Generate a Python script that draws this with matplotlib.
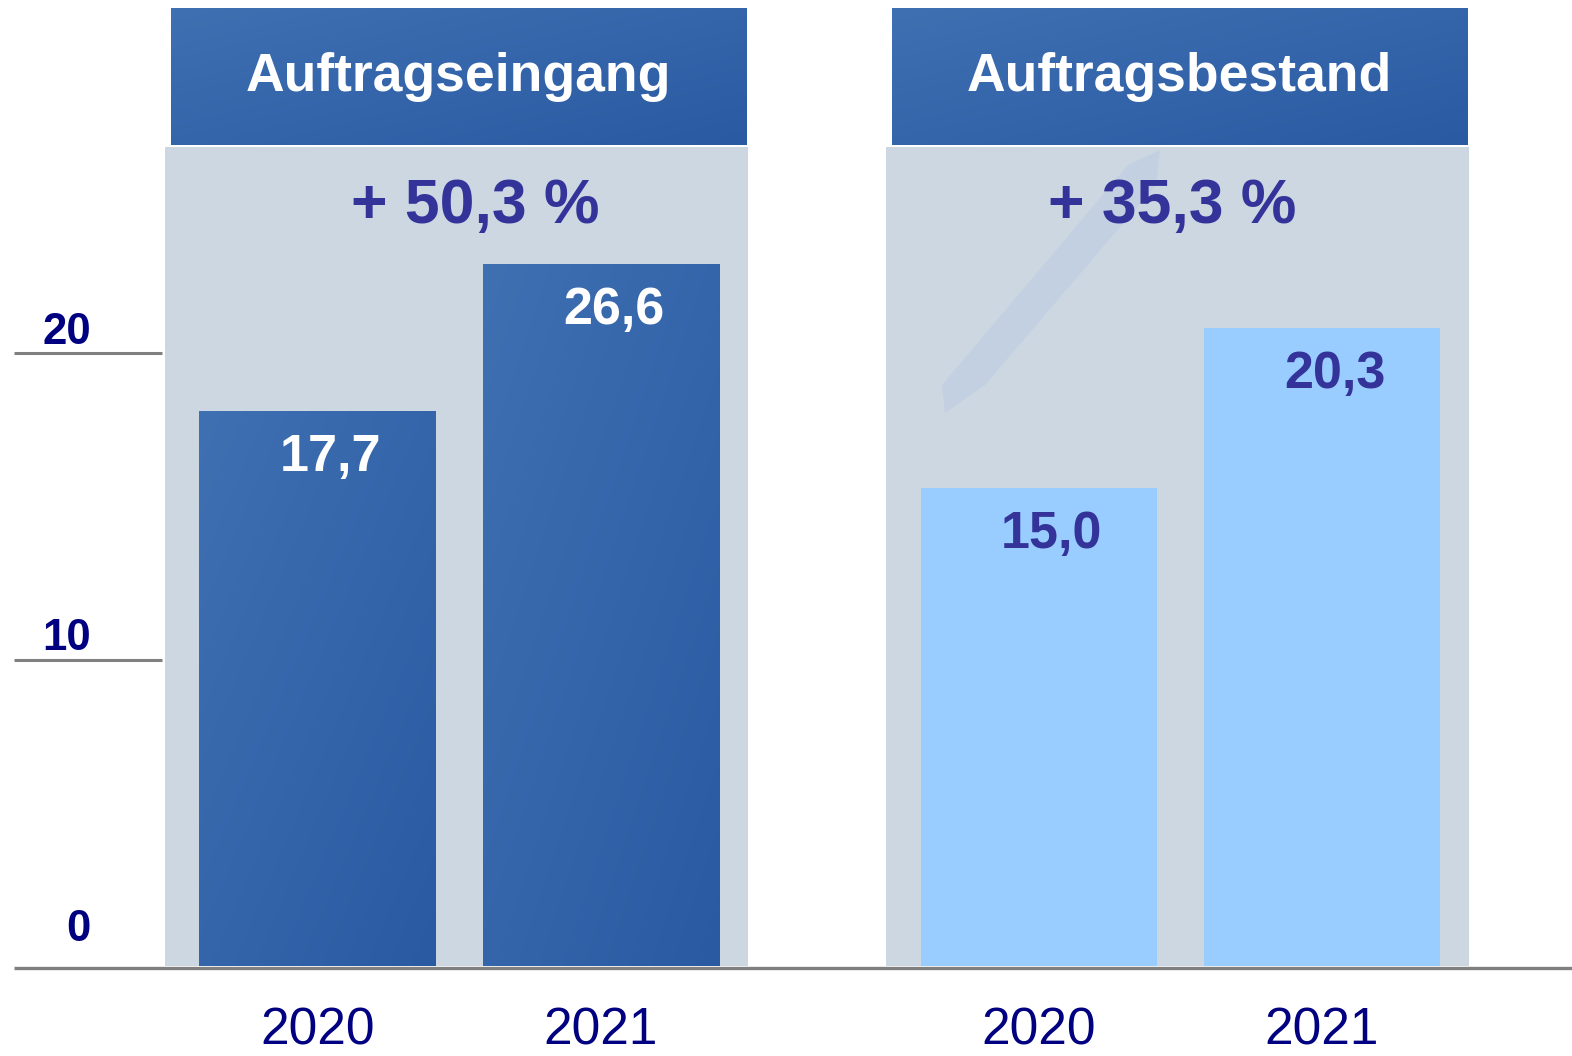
import numpy as np
import matplotlib
matplotlib.use("Agg")
import matplotlib.pyplot as plt
from matplotlib.patches import Rectangle, Polygon
from matplotlib.colors import to_rgb

plt.rcParams['font.family'] = ['Liberation Sans', 'DejaVu Sans']

# ---------------- data ----------------
panels = ["Auftragseingang", "Auftragsbestand"]
changes = ["+ 50,3 %", "+ 35,3 %"]
years = ["2020", "2021"]
# bar heights as read against the left scale
auftragseingang = [18.1, 22.9]
auftragsbestand = [15.6, 20.8]
# printed value labels
labels_eingang = ["17,7", "26,6"]
labels_bestand = ["15,0", "20,3"]
yticks = [0, 10, 20]

# ---------------- layout ----------------
W, H, DPI = 1572, 1056, 100
fig = plt.figure(figsize=(W / DPI, H / DPI), dpi=DPI)
ax = fig.add_axes([0, 0, 1, 1])

PX_X0, PX_UNIT_X = 317.5, 282.0   # pixel of x=0, pixels per x unit
PX_Y0, PX_UNIT_Y = 966.0, 30.65   # pixel of y=0, pixels per y unit
ax.set_xlim((0 - PX_X0) / PX_UNIT_X, (W - PX_X0) / PX_UNIT_X)
ax.set_ylim((PX_Y0 - H) / PX_UNIT_Y, PX_Y0 / PX_UNIT_Y)
ax.axis('off')

group_start = [0.0, 2.557]
within = [0.0, 1.005]
bar_w = 0.837
series = [auftragseingang, auftragsbestand]
series_labels = [labels_eingang, labels_bestand]

panel_color = '#cdd7e1'
dark_tl, dark_br = to_rgb('#3f70b2'), to_rgb('#2a5aa2')
light_bar = '#99ccff'
pct_color = '#333399'
navy = '#000080'
grid_gray = '#808080'


def gradient_img(c1, c2, n=64):
    xx, yy = np.meshgrid(np.linspace(0, 1, n), np.linspace(0, 1, n))
    t = (xx + yy) / 2.0  # row 0 = top when origin='upper'
    c1, c2 = np.array(c1), np.array(c2)
    return c1[None, None, :] * (1 - t[..., None]) + c2[None, None, :] * t[..., None]


def fill_gradient(patch, x0, x1, y0, y1, z):
    im = ax.imshow(gradient_img(dark_tl, dark_br), extent=(x0, x1, y0, y1),
                   origin='upper', aspect='auto', zorder=z, interpolation='bilinear')
    im.set_clip_path(patch)


for g in range(2):
    gx = group_start[g]
    # panel background
    pbg = Rectangle((gx - 0.54, 0), 2.065, 26.72, facecolor=panel_color,
                    edgecolor='none', zorder=1)
    ax.add_patch(pbg)
    # header
    hdr = Rectangle((gx - 0.52, 26.80), 2.04, 31.26 - 26.80,
                    facecolor='#3463aa', edgecolor='none', zorder=2)
    ax.add_patch(hdr)
    fill_gradient(hdr, gx - 0.52, gx + 1.52, 26.80, 31.26, 2.5)
    ax.text(gx + 0.50, 28.55, panels[g], ha='center', va='baseline',
            fontsize=38.5, fontweight='bold', color='white', zorder=5)
    # percentage change
    ax.text(gx + [0.56, 0.475][g], 24.25, changes[g], ha='center', va='baseline',
            fontsize=45, fontweight='bold', color=pct_color, zorder=5)

# faint turbine blade in the right panel
blade = Polygon([((945 - PX_X0) / PX_UNIT_X, (PX_Y0 - 413) / PX_UNIT_Y),
                 ((942 - PX_X0) / PX_UNIT_X, (PX_Y0 - 385) / PX_UNIT_Y),
                 ((1128 - PX_X0) / PX_UNIT_X, (PX_Y0 - 165) / PX_UNIT_Y),
                 ((1160 - PX_X0) / PX_UNIT_X, (PX_Y0 - 150) / PX_UNIT_Y),
                 ((1156 - PX_X0) / PX_UNIT_X, (PX_Y0 - 185) / PX_UNIT_Y),
                 ((985 - PX_X0) / PX_UNIT_X, (PX_Y0 - 385) / PX_UNIT_Y)],
                closed=True, facecolor='#b5c9e2', edgecolor='none', alpha=0.45, zorder=1.5)
ax.add_patch(blade)

for g in range(2):
    xs = [group_start[g] + w for w in within]
    if g == 0:
        bars = ax.bar(xs, series[g], width=bar_w, color='#3463aa', zorder=3)
        for b in bars:
            x0 = b.get_x()
            fill_gradient(b, x0, x0 + b.get_width(), 0, b.get_height(), 3.5)
        txtc = 'white'
    else:
        bars = ax.bar(xs, series[g], width=bar_w, color=light_bar, zorder=3)
        txtc = pct_color
    for b, lab, yr in zip(bars, series_labels[g], years):
        cx = b.get_x() + b.get_width() / 2
        ax.text(cx + 0.045, b.get_height() - 1.95, lab, ha='center', va='baseline',
                fontsize=37.5, fontweight='bold', color=txtc, zorder=6)
        ax.text(cx, -2.55, yr, ha='center', va='baseline', fontsize=37,
                color=navy, zorder=6)

# left scale
xl0, xl1 = (14 - PX_X0) / PX_UNIT_X, (162 - PX_X0) / PX_UNIT_X
for t in yticks:
    if t > 0:
        ax.plot([xl0, xl1], [t, t], color=grid_gray, lw=2.2, zorder=4,
                solid_capstyle='butt')
    ax.text((91 - PX_X0) / PX_UNIT_X, t + (0.3 if t > 0 else 0.8), str(t),
            ha='right', va='baseline', fontsize=31.5, fontweight='bold',
            color=navy, zorder=6)

# baseline
ax.plot([xl0, ax.get_xlim()[1]], [-0.05, -0.05], color=grid_gray, lw=2.4,
        zorder=7, solid_capstyle='butt')

fig.savefig('out.png', dpi=DPI, facecolor='white')
